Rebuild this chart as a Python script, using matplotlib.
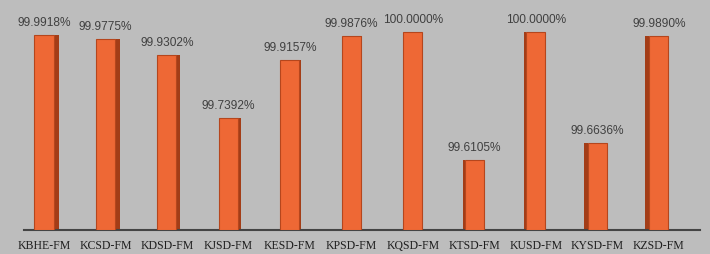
import matplotlib
matplotlib.use("Agg")
import matplotlib.pyplot as plt
import numpy as np

stations = ['KBHE-FM', 'KCSD-FM', 'KDSD-FM', 'KJSD-FM', 'KESD-FM', 'KPSD-FM',
            'KQSD-FM', 'KTSD-FM', 'KUSD-FM', 'KYSD-FM', 'KZSD-FM']
uptime = [99.9918, 99.9775, 99.9302, 99.7392, 99.9157, 99.9876,
          100.0000, 99.6105, 100.0000, 99.6636, 99.9890]

ymin = 99.3975
ymax = ymin + 230 / 328.6

fig = plt.figure(figsize=(7.1, 2.54), dpi=100)
fig.patch.set_facecolor('#bdbdbd')
ax = fig.add_axes([24 / 710, 1 - 230 / 254, 676 / 710, 230 / 254])
ax.set_facecolor('#bdbdbd')

x = np.arange(len(stations))
w = 0.31

# fake 3d side faces, perspective from the middle
for i, v in enumerate(uptime):
    side = (5.6 - i) * 0.016
    if side > 0:
        left = i + w / 2
    else:
        left = i - w / 2 + side
    ax.bar(left, v - ymin, width=abs(side), bottom=ymin, align='edge',
           color='#a33d17', edgecolor='none', zorder=2)

ax.bar(x, [v - ymin for v in uptime], width=w, bottom=ymin,
       color='#ee6835', edgecolor='#b5461d', linewidth=0.8, zorder=3)

for i, v in enumerate(uptime):
    ax.text(i, v + 0.018, f'{v:.4f}%', ha='center', va='bottom',
            fontsize=8.6, color='#404040', family='Liberation Sans')

ax.set_xlim(-0.325, 10.67)
ax.set_ylim(ymin, ymax)
ax.set_xticks(x)
ax.set_xticklabels(stations, family='Liberation Serif', fontsize=8.5, color='#1e1e1e')
ax.tick_params(axis='x', length=0, pad=7)
ax.set_yticks([])
for s in ['top', 'right', 'left']:
    ax.spines[s].set_visible(False)
ax.spines['bottom'].set_color('#444444')
ax.spines['bottom'].set_linewidth(1.5)

fig.savefig('out.png', dpi=100, facecolor=fig.get_facecolor())
